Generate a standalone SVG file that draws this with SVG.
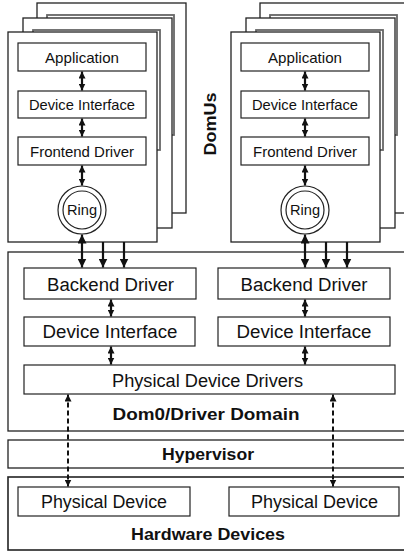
<svg xmlns="http://www.w3.org/2000/svg" width="404" height="552" viewBox="0 0 404 552">
<style>
.pg{fill:#fff;stroke:#222;stroke-width:1.3}
.sh{fill:#fff;stroke:#666;stroke-width:1.8}
.bx{fill:#fff;stroke:#222;stroke-width:1.2}
.dom{fill:#fff;stroke:#222;stroke-width:1.3}
.t{font-family:"Liberation Sans",Arial,sans-serif;fill:#111;text-anchor:middle}
.s{font-size:14.5px}
.m{font-size:18px}
.b{font-size:17px;font-weight:bold}
.a{stroke:#111;stroke-width:2.2;fill:none}
.d{stroke:#111;stroke-width:2;fill:none;stroke-dasharray:5 3}
.ring{fill:#fff;stroke:#222;stroke-width:1.2}
</style>
<defs>
<marker id="h" markerUnits="userSpaceOnUse" markerWidth="9" markerHeight="9" viewBox="0 0 9 9" refX="9" refY="4.5" orient="auto-start-reverse"><path d="M0,0 L9,4.5 L0,9 z" fill="#111"/></marker>
<marker id="hs" markerUnits="userSpaceOnUse" markerWidth="7" markerHeight="7" viewBox="0 0 7 7" refX="7" refY="3.5" orient="auto-start-reverse"><path d="M0,0 L7,3.5 L0,7 z" fill="#111"/></marker>
</defs>

<g id="domu-left">
<rect class="pg" x="37" y="3" width="149" height="210"/>
<rect class="sh" x="47" y="15" width="127" height="120"/>
<rect class="pg" x="23" y="18" width="149" height="210"/>
<rect class="sh" x="33" y="30" width="127" height="120"/>
<rect class="pg" x="8" y="32" width="149" height="210"/>
</g>
<g id="domu-right">
<rect class="pg" x="260" y="3" width="149" height="210"/>
<rect class="sh" x="270" y="15" width="127" height="120"/>
<rect class="pg" x="246" y="18" width="149" height="210"/>
<rect class="sh" x="256" y="30" width="127" height="120"/>
<rect class="pg" x="231" y="32" width="149" height="210"/>
</g>

<g id="app-l"><rect class="bx" x="18" y="43" width="128" height="28"/><text class="t s" x="82" y="63" textLength="74" lengthAdjust="spacingAndGlyphs">Application</text></g>
<g id="di-l"><rect class="bx" x="18" y="91" width="128" height="27"/><text class="t s" x="82" y="110" textLength="106" lengthAdjust="spacingAndGlyphs">Device Interface</text></g>
<g id="fe-l"><rect class="bx" x="18" y="137" width="128" height="28"/><text class="t s" x="82" y="157" textLength="104" lengthAdjust="spacingAndGlyphs">Frontend Driver</text></g>
<g id="ring-l"><circle class="ring" cx="82" cy="210" r="24"/><circle class="ring" cx="82" cy="210" r="19"/><text class="t s" x="82" y="215" textLength="30" lengthAdjust="spacingAndGlyphs">Ring</text></g>

<g id="app-r"><rect class="bx" x="241" y="43" width="128" height="28"/><text class="t s" x="305" y="63" textLength="74" lengthAdjust="spacingAndGlyphs">Application</text></g>
<g id="di-r"><rect class="bx" x="241" y="91" width="128" height="27"/><text class="t s" x="305" y="110" textLength="106" lengthAdjust="spacingAndGlyphs">Device Interface</text></g>
<g id="fe-r"><rect class="bx" x="241" y="137" width="128" height="28"/><text class="t s" x="305" y="157" textLength="104" lengthAdjust="spacingAndGlyphs">Frontend Driver</text></g>
<g id="ring-r"><circle class="ring" cx="305" cy="210" r="24"/><circle class="ring" cx="305" cy="210" r="19"/><text class="t s" x="305" y="215" textLength="30" lengthAdjust="spacingAndGlyphs">Ring</text></g>

<g id="domus-label"><text class="t b" transform="translate(216,124) rotate(-90)" x="0" y="0" font-size="19" textLength="63" lengthAdjust="spacingAndGlyphs">DomUs</text></g>

<g id="dom0">
<rect class="dom" x="8" y="252" width="420" height="179"/>
<text class="t b" x="206" y="420" textLength="187" lengthAdjust="spacingAndGlyphs">Dom0/Driver Domain</text>
</g>
<g id="be-l"><rect class="bx" x="24" y="268" width="172" height="31"/><text class="t m" x="110.5" y="291" textLength="127" lengthAdjust="spacingAndGlyphs">Backend Driver</text></g>
<g id="di0-l"><rect class="bx" x="24" y="317" width="171" height="29"/><text class="t m" x="110" y="338" textLength="135" lengthAdjust="spacingAndGlyphs">Device Interface</text></g>
<g id="be-r"><rect class="bx" x="218" y="268" width="172" height="31"/><text class="t m" x="304" y="291" textLength="127" lengthAdjust="spacingAndGlyphs">Backend Driver</text></g>
<g id="di0-r"><rect class="bx" x="218" y="317" width="172" height="29"/><text class="t m" x="304" y="338" textLength="135" lengthAdjust="spacingAndGlyphs">Device Interface</text></g>
<g id="pdd"><rect class="bx" x="24" y="365" width="371" height="29"/><text class="t m" x="207.5" y="387" textLength="191" lengthAdjust="spacingAndGlyphs">Physical Device Drivers</text></g>

<g id="hypervisor">
<rect class="dom" x="8" y="440" width="420" height="28"/>
<text class="t b" x="208" y="460" textLength="92" lengthAdjust="spacingAndGlyphs">Hypervisor</text>
</g>

<g id="hardware">
<rect class="dom" x="8" y="477" width="420" height="73" style="stroke-width:1.6"/>
<text class="t b" x="208" y="540" textLength="154" lengthAdjust="spacingAndGlyphs">Hardware Devices</text>
</g>
<g id="pd-l"><rect class="bx" x="18" y="487" width="172" height="29"/><text class="t m" x="104" y="508" textLength="126" lengthAdjust="spacingAndGlyphs">Physical Device</text></g>
<g id="pd-r"><rect class="bx" x="229" y="487" width="170" height="29"/><text class="t m" x="314.5" y="508" textLength="127" lengthAdjust="spacingAndGlyphs">Physical Device</text></g>

<g id="connectors">
<line class="a" x1="82" y1="71.5" x2="82" y2="90.5" marker-start="url(#hs)" marker-end="url(#hs)"/>
<line class="a" x1="82" y1="118.5" x2="82" y2="136.5" marker-start="url(#hs)" marker-end="url(#hs)"/>
<line class="a" x1="82" y1="165.5" x2="82" y2="185.5" marker-start="url(#hs)" marker-end="url(#hs)"/>
<line class="a" x1="82" y1="234.5" x2="82" y2="267.5" marker-start="url(#h)" marker-end="url(#h)"/>
<line class="a" x1="103" y1="242" x2="103" y2="267.5" marker-end="url(#h)"/>
<line class="a" x1="124" y1="242" x2="124" y2="267.5" marker-end="url(#h)"/>

<line class="a" x1="305" y1="71.5" x2="305" y2="90.5" marker-start="url(#hs)" marker-end="url(#hs)"/>
<line class="a" x1="305" y1="118.5" x2="305" y2="136.5" marker-start="url(#hs)" marker-end="url(#hs)"/>
<line class="a" x1="305" y1="165.5" x2="305" y2="185.5" marker-start="url(#hs)" marker-end="url(#hs)"/>
<line class="a" x1="305" y1="234.5" x2="305" y2="267.5" marker-start="url(#h)" marker-end="url(#h)"/>
<line class="a" x1="326" y1="242" x2="326" y2="267.5" marker-end="url(#h)"/>
<line class="a" x1="347" y1="242" x2="347" y2="267.5" marker-end="url(#h)"/>

<line class="a" x1="111" y1="299.5" x2="111" y2="316.5" marker-start="url(#hs)" marker-end="url(#hs)"/>
<line class="a" x1="111" y1="346.5" x2="111" y2="364.5" marker-start="url(#hs)" marker-end="url(#hs)"/>
<line class="a" x1="305" y1="299.5" x2="305" y2="316.5" marker-start="url(#hs)" marker-end="url(#hs)"/>
<line class="a" x1="305" y1="346.5" x2="305" y2="364.5" marker-start="url(#hs)" marker-end="url(#hs)"/>

<line class="d" x1="68" y1="394.5" x2="68" y2="486.5" marker-start="url(#hs)" marker-end="url(#hs)"/>
<line class="d" x1="333" y1="394.5" x2="333" y2="486.5" marker-start="url(#hs)" marker-end="url(#hs)"/>
</g>
</svg>
